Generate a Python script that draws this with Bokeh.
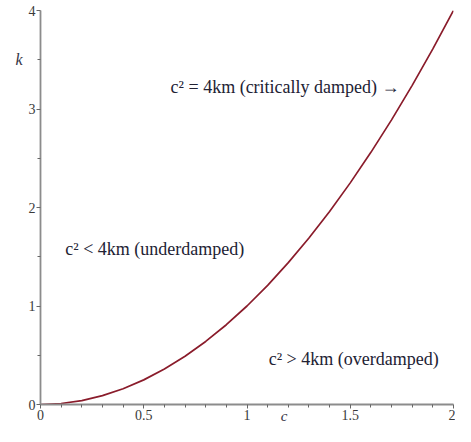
from bokeh.plotting import figure
from bokeh.models import Range1d, Label, FixedTicker, LinearAxis
from bokeh.embed import file_html
from bokeh.resources import INLINE

# data (boundary curve c^2 = 4km)
c_vals = [0.0, 0.1, 0.2, 0.3, 0.4, 0.5, 0.6, 0.7, 0.8, 0.9, 1.0,
          1.1, 1.2, 1.3, 1.4, 1.5, 1.6, 1.7, 1.8, 1.9, 2.0]
k_vals = [0.0, 0.01, 0.04, 0.09, 0.16, 0.25, 0.36, 0.49, 0.64, 0.81, 1.0,
          1.21, 1.44, 1.69, 1.96, 2.25, 2.56, 2.89, 3.24, 3.61, 4.0]
x_major = [0, 0.5, 1, 1.5, 2]
x_minor = [0.1, 0.2, 0.3, 0.4, 0.6, 0.7, 0.8, 0.9, 1.1, 1.2, 1.3, 1.4,
           1.6, 1.7, 1.8, 1.9]
y_major = [0, 1, 2, 3, 4]
y_minor = [0.5, 1.5, 2.5, 3.5]
x_tick_labels = {0: "0", 0.5: "0.5", 1: "1", 1.5: "1.5", 2: "2"}
y_tick_labels = {0: "0", 1: "1", 2: "2", 3: "3", 4: "4"}
x_title, x_title_pos = "c", 1.18
y_title, y_title_pos = "k", 3.5
annotations = [
    ("c\u00b2 = 4km (critically damped) \u2192", 0.63, 3.22),
    ("c\u00b2 < 4km (underdamped)", 0.12, 1.58),
    ("c\u00b2 > 4km (overdamped)", 1.105, 0.46),
]

FONT = "Liberation Serif"

p = figure(width=455, height=426, output_backend="svg", toolbar_location=None,
           x_range=Range1d(0, 2), y_range=Range1d(0, 4),
           min_border_left=40, min_border_right=2, min_border_top=10,
           min_border_bottom=18)
p.outline_line_color = None
p.grid.visible = False
p.background_fill_color = "white"
p.border_fill_color = "white"

p.line(c_vals, k_vals, line_color="#8a1c2b", line_width=1.7)

for ax in (p.xaxis[0], p.yaxis[0]):
    ax.axis_line_color = "#8c8c8c"
    ax.axis_line_width = 1.8
    ax.major_tick_line_color = "#666666"
    ax.minor_tick_line_color = "#666666"
    ax.major_tick_in = 0
    ax.minor_tick_in = 0
    ax.major_tick_out = 4
    ax.minor_tick_out = 3
    ax.major_label_text_font = FONT
    ax.major_label_text_font_size = "14px"
    ax.major_label_text_color = "#3a3a3a"
    ax.major_label_standoff = 1

p.xaxis[0].ticker = FixedTicker(ticks=x_major, minor_ticks=x_minor)
p.yaxis[0].ticker = FixedTicker(ticks=y_major, minor_ticks=y_minor)
p.xaxis[0].major_label_overrides = x_tick_labels
p.yaxis[0].major_label_overrides = y_tick_labels

# axis titles placed like the original (italic, off-centre)
def title_axis(pos, txt, standoff, size):
    return LinearAxis(ticker=FixedTicker(ticks=[pos], minor_ticks=[]),
                      major_label_overrides={pos: txt},
                      axis_line_color=None, major_tick_line_color=None,
                      minor_tick_line_color=None, major_tick_out=0,
                      major_tick_in=0, minor_tick_out=0, minor_tick_in=0,
                      major_label_standoff=standoff,
                      major_label_text_font=FONT,
                      major_label_text_font_style="italic",
                      major_label_text_font_size=size,
                      major_label_text_color="#333344")

p.add_layout(title_axis(x_title_pos, x_title, -15, "15px"), "below")
p.add_layout(title_axis(y_title_pos, y_title, 3, "16px"), "left")

for txt, xx, yy in annotations:
    p.add_layout(Label(x=xx, y=yy, text=txt, text_font=FONT,
                       text_font_size="18px", text_color="#222233",
                       text_baseline="middle"))

open("out.html", "w").write(file_html(p, INLINE))
